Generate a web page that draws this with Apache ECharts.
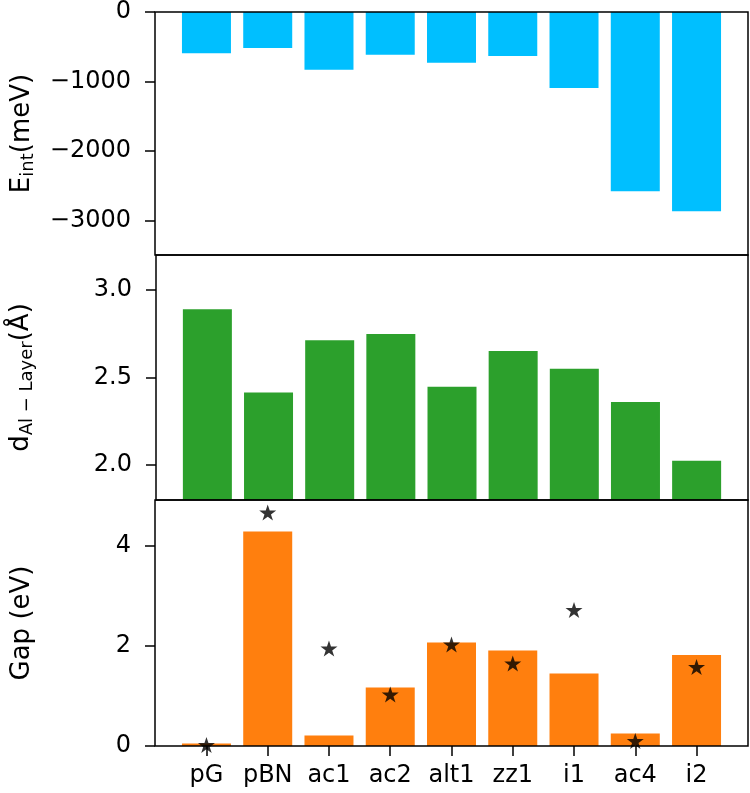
<!DOCTYPE html>
<html>
<head>
<meta charset="utf-8">
<script src="https://cdn.jsdelivr.net/npm/echarts@6/dist/echarts.min.js"></script>
<style>
  html, body { margin: 0; padding: 0; background: #fff; }
  #main { width: 750px; height: 793px; }
</style>
</head>
<body>
<div id="main"></div>
<script>
// categories on the shared x axis
const categories = ['pG', 'pBN', 'ac1', 'ac2', 'alt1', 'zz1', 'i1', 'ac4', 'i2'];
// top panel: interaction energy (meV)
const eInt = [-595, -520, -830, -615, -730, -633, -1095, -2580, -2870];
// middle panel: Al-layer distance (Å)
const dAl = [2.89, 2.415, 2.713, 2.749, 2.447, 2.651, 2.55, 2.36, 2.025];
// bottom panel: gap bars and star markers (eV)
const gapBars = [0.05, 4.29, 0.21, 1.17, 2.07, 1.91, 1.45, 0.25, 1.82];
const gapStars = [0.02, 4.67, 1.95, 1.03, 2.03, 1.65, 2.72, 0.10, 1.58];
// tick values
const eTicks = [-3000, -2000, -1000, 0];
const dTicks = [2.0, 2.5, 3.0];
const gapTicks = [0, 2, 4];
const xTicks = [0, 1, 2, 3, 4, 5, 6, 7, 8];

const font = 'DejaVu Sans';
const starPath = 'path://M0,-10 L2.245,-3.09 L9.511,-3.09 L3.633,1.18 L5.878,8.09 L0,3.82 L-5.878,8.09 L-3.633,1.18 L-9.511,-3.09 L-2.245,-3.09 Z';

const chart = echarts.init(document.getElementById('main'), null, { renderer: 'canvas' });

function pairs(vals) {
  return vals.map(function (v, i) { return [i, v]; });
}

function xAx(idx, show) {
  return {
    type: 'value', gridIndex: idx, min: -0.84, max: 8.84,
    axisLine: { show: false, onZero: false },
    splitLine: { show: false },
    axisTick: { show: show, customValues: xTicks, length: 10, lineStyle: { color: '#000', width: 1.5 } },
    axisLabel: {
      show: show, customValues: xTicks, margin: 18,
      formatter: function (v) { return categories[v] || ''; },
      color: '#000', fontSize: 24, fontFamily: font
    }
  };
}

function yAx(idx, min, max, ticks, fmt, name, gap) {
  return {
    type: 'value', gridIndex: idx, min: min, max: max,
    axisLine: { show: false, onZero: false },
    splitLine: { show: false },
    axisTick: { show: true, customValues: ticks, length: 10, lineStyle: { color: '#000', width: 1.5 } },
    axisLabel: { customValues: ticks, formatter: fmt, margin: 24, color: '#000', fontSize: 24, fontFamily: font },
    name: name,
    nameLocation: 'middle',
    nameGap: gap,
    nameTextStyle: {
      color: '#000',
      rich: {
        n: { fontSize: 26, fontFamily: font, color: '#000' },
        s: { fontSize: 18, fontFamily: font, color: '#000', padding: [12, 0, 0, 0] }
      }
    }
  };
}

// frame drawn above the bars, like the plot spines
const gridBase = { left: 155, width: 593, show: true, z: 10, borderColor: '#000', borderWidth: 1.5, backgroundColor: 'transparent' };

var option = {
  animation: false,
  grid: [
    Object.assign({ top: 10, height: 245 }, gridBase),
    Object.assign({ top: 255, height: 245 }, gridBase),
    Object.assign({ top: 500, height: 246 }, gridBase)
  ],
  xAxis: [xAx(0, false), xAx(1, false), xAx(2, true)],
  yAxis: [
    yAx(0, -3500, 0, eTicks, function (v) { return v < 0 ? '\u2212' + Math.abs(v) : String(v); },
      '{n|E}{s|int}{n|(meV)}', 118),
    yAx(1, 1.8, 3.2, dTicks, function (v) { return v.toFixed(1); },
      '{n|d}{s|Al \u2212 Layer}{n|(Å)}', 120),
    yAx(2, 0, 4.92, gapTicks, function (v) { return String(v); },
      '{n|Gap (eV)}', 120)
  ],
  series: [
    {
      type: 'bar', xAxisIndex: 0, yAxisIndex: 0, barWidth: 49,
      itemStyle: { color: '#00bfff' },
      data: pairs(eInt)
    },
    {
      type: 'bar', xAxisIndex: 1, yAxisIndex: 1, barWidth: 49,
      itemStyle: { color: '#2ca02c' },
      data: pairs(dAl)
    },
    {
      type: 'bar', xAxisIndex: 2, yAxisIndex: 2, barWidth: 49,
      itemStyle: { color: '#ff7f0e' },
      data: pairs(gapBars)
    },
    {
      type: 'scatter', xAxisIndex: 2, yAxisIndex: 2,
      symbol: starPath, symbolSize: 17, symbolKeepAspect: true,
      itemStyle: { color: '#000' },
      z: 5,
      data: pairs(gapStars)
    }
  ]
};
chart.setOption(option);
</script>
</body>
</html>
